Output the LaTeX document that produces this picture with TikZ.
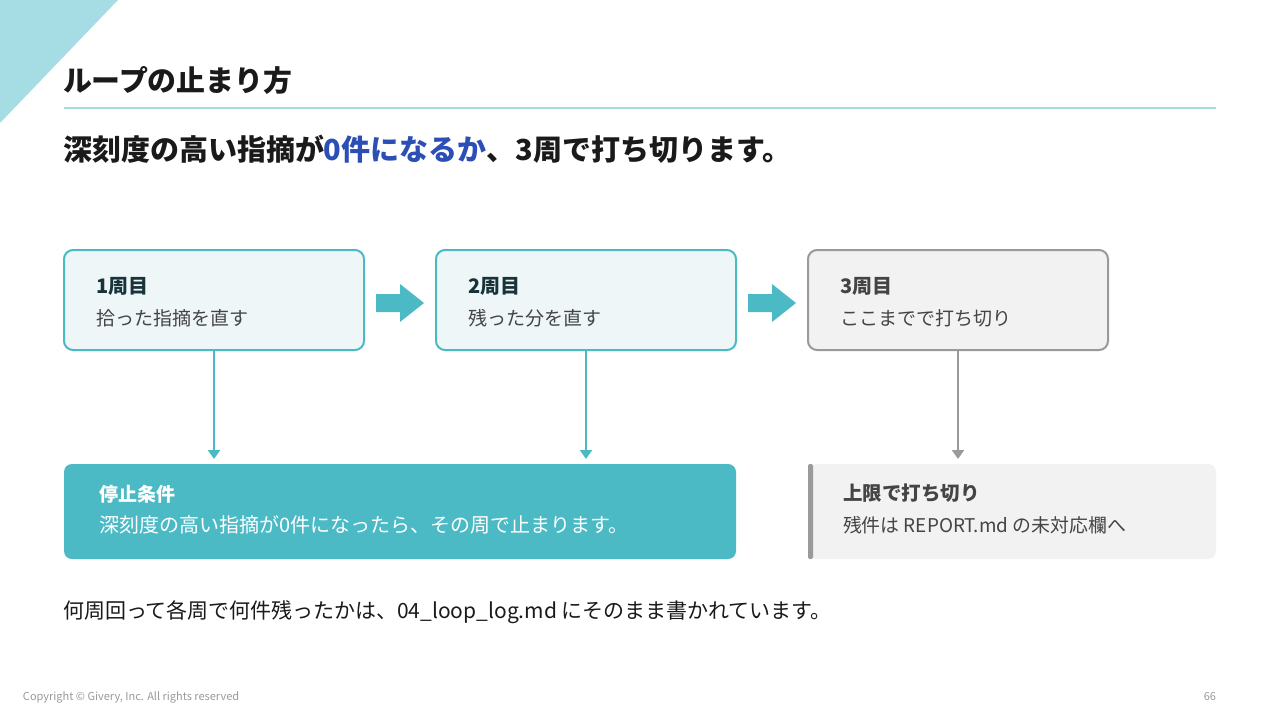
\documentclass[tikz,border=0pt]{standalone}
\usepackage{fontspec}
\setmainfont{Noto Sans CJK JP}
\usetikzlibrary{arrows.meta}
\definecolor{teal}{HTML}{4BBAC5}
\definecolor{tealline}{HTML}{A3DCDC}
\definecolor{tri}{HTML}{A6DDE4}
\definecolor{boxfill}{HTML}{EEF6F8}
\definecolor{grayfill}{HTML}{F2F2F2}
\definecolor{grayline}{HTML}{9A9A9A}
\definecolor{ink}{HTML}{1A1A1A}
\definecolor{body}{HTML}{444444}
\definecolor{hl}{HTML}{2C4FB6}
\definecolor{foot}{HTML}{9A9A9A}
\definecolor{headteal}{HTML}{18343A}
\begin{document}
\begin{tikzpicture}[x=1pt,y=-1pt,
  every node/.style={inner sep=0pt, outer sep=0pt},
  stepbox/.style={draw=teal, line width=2pt, fill=boxfill, rounded corners=9pt, minimum width=300pt, minimum height=100pt},
  graybox/.style={draw=grayline, line width=2pt, fill=grayfill, rounded corners=9pt, minimum width=300pt, minimum height=100pt},
  head/.style={anchor=west, font=\fontsize{20}{24}\selectfont\bfseries},
  txt/.style={anchor=west, font=\fontsize{19}{24}\selectfont, text=body},
  conn/.style={line width=2pt, draw=teal, -{Triangle[width=12pt,length=9pt]}, shorten >=5pt},
  blockarrow/.style={fill=teal}
]
\useasboundingbox (0,0) rectangle (1280,720);
\fill[white] (0,0) rectangle (1280,720);
% corner triangle
\fill[tri] (0,0) -- (118,0) -- (0,123) -- cycle;
% title
\node[anchor=west, font=\fontsize{28.9}{32}\selectfont\bfseries, text=ink] (title) at (63,80) {ループの止まり方};
\draw[tealline, line width=2pt] (64,108) -- (1216,108);
\node[anchor=west, font=\fontsize{29}{32}\selectfont\bfseries, text=ink] (sub) at (63,149) {深刻度の高い指摘が\textcolor{hl}{0件になるか}、3周で打ち切ります。};
% step boxes
\node[stepbox] (b1) at (214,300) {};
\node[stepbox] (b2) at (586,300) {};
\node[graybox] (b3) at (958,300) {};
\node[head, text=headteal] (h1) at (96,286) {1周目};
\node[txt] (t1) at (96,318) {拾った指摘を直す};
\node[head, text=headteal] (h2) at (468,286) {2周目};
\node[txt] (t2) at (468,318) {残った分を直す};
\node[head, text=body] (h3) at (840,286) {3周目};
\node[txt] (t3) at (840,318) {ここまでで打ち切り};
% block arrows
\fill[blockarrow] (376,294) -- (400,294) -- (400,284) -- (424,303) -- (400,322) -- (400,312) -- (376,312) -- cycle;
\fill[blockarrow] (748,294) -- (772,294) -- (772,284) -- (796,303) -- (772,322) -- (772,312) -- (748,312) -- cycle;
% bottom boxes
\node[fill=teal, rounded corners=8pt, minimum width=672pt, minimum height=95pt] (stop) at (400,511.5) {};
\node[fill=grayfill, rounded corners=8pt, minimum width=408pt, minimum height=95pt] (lim) at (1012,511.5) {};
\fill[grayline, rounded corners=2pt] (lim.north west) rectangle ([xshift=5pt]lim.south west);
\node[anchor=west, font=\fontsize{19}{24}\selectfont\bfseries, text=white] (sh) at (99,494) {停止条件};
\node[anchor=west, font=\fontsize{20}{24}\selectfont, text=white] (sb) at (99,525) {深刻度の高い指摘が0件になったら、その周で止まります。};
\node[head, text=body, font=\fontsize{19.5}{24}\selectfont\bfseries] (lh) at (843,493) {上限で打ち切り};
\node[txt, font=\fontsize{18.9}{24}\selectfont] (lb) at (843,525) {残件は REPORT.md の未対応欄へ};
% connectors
\draw[conn] (b1.south) -- (b1.south |- stop.north);
\draw[conn] (b2.south) -- (b2.south |- stop.north);
\draw[conn, draw=grayline] (b3.south) -- (b3.south |- lim.north);
% note
\node[anchor=west, font=\fontsize{21}{24}\selectfont, text=ink] (note) at (63,612) {何周回って各周で何件残ったかは、04\_loop\_log.md にそのまま書かれています。};
% footer
\node[anchor=west, font=\fontsize{11}{12}\selectfont, text=foot] (copy) at (23,697) {Copyright © Givery, Inc. All rights reserved};
\node[anchor=east, font=\fontsize{11}{12}\selectfont, text=foot] (page) at (1216,697) {66};
\end{tikzpicture}
\end{document}
